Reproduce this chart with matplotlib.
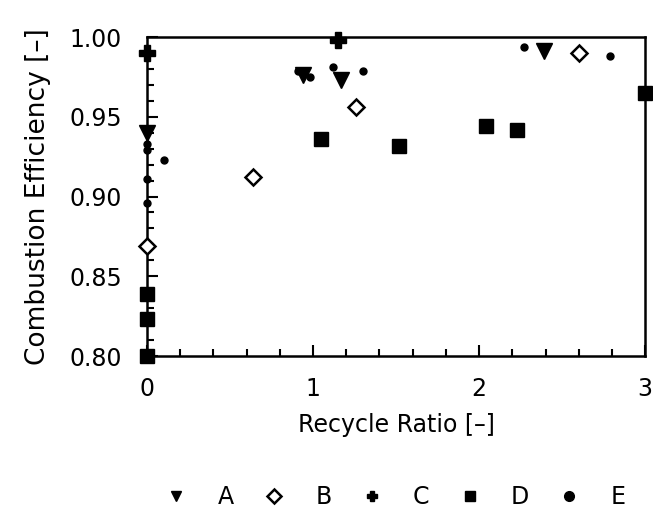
import numpy as np
import matplotlib
matplotlib.use("Agg")
import matplotlib.pyplot as plt
from matplotlib.ticker import MultipleLocator

# series
a_x = [0.0, 0.94, 1.17, 2.39]
a_y = [0.940, 0.976, 0.973, 0.991]

b_x = [0.0, 0.64, 1.26, 2.60]
b_y = [0.869, 0.912, 0.956, 0.990]

c_x = [0.0, 1.15]
c_y = [0.990, 0.998]

d_x = [0.0, 0.0, 0.0, 1.05, 1.52, 2.04, 2.23, 3.0]
d_y = [0.839, 0.823, 0.800, 0.936, 0.932, 0.944, 0.942, 0.965]

e_x = [0.0, 0.0, 0.0, 0.0, 0.10, 0.91, 0.98, 1.12, 1.30, 2.27, 2.79]
e_y = [0.933, 0.929, 0.911, 0.896, 0.923, 0.979, 0.975, 0.981, 0.979, 0.994, 0.988]

plt.rcParams['font.family'] = ['DejaVu Sans']

fig = plt.figure(figsize=(6.53, 5.22), dpi=100)
ax = fig.add_axes([0.225, 0.318, 0.763, 0.611])

ax.plot(a_x, a_y, 'v', color='black', ms=11, clip_on=False, label='A', zorder=3)
ax.plot(b_x, b_y, 'D', mfc='white', mec='black', mew=1.8, ms=8, clip_on=False, label='B', zorder=3)
ax.plot(c_x, c_y, 'P', color='black', ms=11, clip_on=False, label='C', zorder=3)
ax.plot(d_x, d_y, 's', color='black', ms=10.5, clip_on=False, label='D', zorder=3)
ax.plot(e_x, e_y, 'o', color='black', ms=5, clip_on=False, label='E', zorder=3)

ax.set_xlim(0, 3)
ax.set_ylim(0.80, 1.00)
ax.xaxis.set_major_locator(MultipleLocator(1))
ax.xaxis.set_minor_locator(MultipleLocator(0.2))
ax.yaxis.set_major_locator(MultipleLocator(0.05))
ax.yaxis.set_minor_locator(MultipleLocator(0.01))
ax.yaxis.set_major_formatter(matplotlib.ticker.FormatStrFormatter('%.2f'))

ax.tick_params(which='both', direction='in', top=False, right=False, width=1.5)
ax.tick_params(which='major', length=8, labelsize=17)
ax.tick_params(axis='y', which='major', pad=18)
ax.tick_params(axis='x', which='major', pad=15)
ax.tick_params(which='minor', length=5)
for s in ax.spines.values():
    s.set_linewidth(1.8)

ax.set_xlabel("Recycle Ratio [\u2013]", fontsize=17, labelpad=9)
ax.set_ylabel("Combustion Efficiency [\u2013]", fontsize=19, labelpad=13)

leg = fig.legend(loc='center', bbox_to_anchor=(0.605, 0.048), ncol=5, frameon=False,
                 fontsize=17, handletextpad=1.25, columnspacing=1.2,
                 handlelength=1.0)
for h in leg.legend_handles:
    h.set_markersize(7)

fig.savefig("out.png", dpi=100)
